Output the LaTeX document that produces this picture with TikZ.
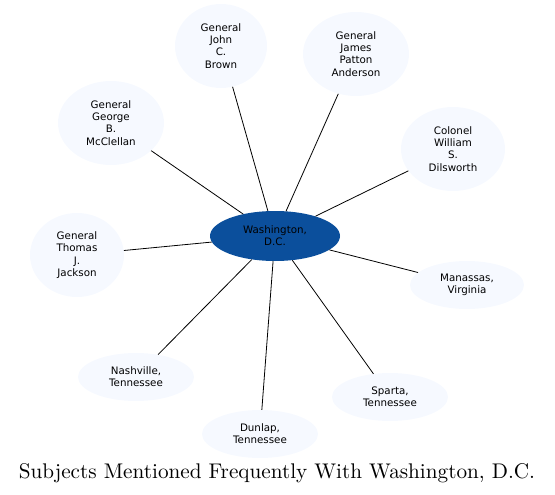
\documentclass[tikz,border=0pt]{standalone}
\usepackage{fontspec}
\newfontfamily\nodefont{DejaVu Sans}
\newfontfamily\titlefont{lmroman10-regular}[Extension=.otf]
\usetikzlibrary{shapes.geometric}
\definecolor{hubblue}{HTML}{0B4F9C}
\definecolor{leaffill}{HTML}{F6F9FF}
\tikzset{
  leaf/.style={ellipse, fill=leaffill, inner sep=0pt, align=center,
    font=\nodefont\fontsize{10.3}{12.3}\selectfont},
  hub/.style={ellipse, fill=hubblue, inner sep=0pt, align=center,
    font=\nodefont\fontsize{10.3}{12.3}\selectfont, text=black},
  link/.style={draw=black, line width=0.8pt}
}
\begin{document}
\begin{tikzpicture}[x=1pt,y=-1pt]
\useasboundingbox (0,0) rectangle (555,495);
\node[hub, minimum width=130pt, minimum height=50pt] (w) at (275,236) {Washington,\\D.C.};
\node[leaf, minimum width=92pt, minimum height=84pt] (brown) at (221,46) {General\\John\\C.\\Brown};
\node[leaf, minimum width=106pt, minimum height=84pt] (anderson) at (356,54) {General\\James\\Patton\\Anderson};
\node[leaf, minimum width=106pt, minimum height=84pt] (mcclellan) at (111,123) {General\\George\\B.\\McClellan};
\node[leaf, minimum width=104pt, minimum height=84pt] (dilsworth) at (453,149) {Colonel\\William\\S.\\Dilsworth};
\node[leaf, minimum width=94pt, minimum height=84pt] (jackson) at (77,255) {General\\Thomas\\J.\\Jackson};
\node[leaf, minimum width=114pt, minimum height=48pt] (manassas) at (467,285) {Manassas,\\Virginia};
\node[leaf, minimum width=116pt, minimum height=48pt] (nashville) at (136,377) {Nashville,\\Tennessee};
\node[leaf, minimum width=116pt, minimum height=48pt] (sparta) at (390,397) {Sparta,\\Tennessee};
\node[leaf, minimum width=116pt, minimum height=48pt] (dunlap) at (260,434) {Dunlap,\\Tennessee};
\foreach \n in {brown,anderson,mcclellan,dilsworth,jackson,manassas,nashville,sparta,dunlap}
  \draw[link] (w) -- (\n);
\node[font=\titlefont\fontsize{21.2}{25}\selectfont, anchor=base, inner sep=0pt] (title) at (277,478) {Subjects Mentioned Frequently With Washington, D.C.};
\end{tikzpicture}
\end{document}
